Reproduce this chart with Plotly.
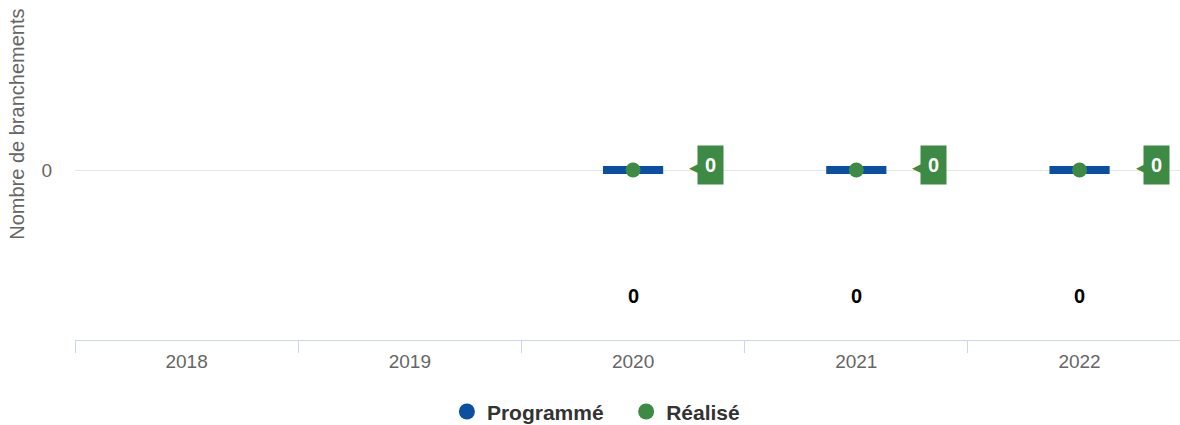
import plotly.graph_objects as go

annees = ["2018", "2019", "2020", "2021", "2022"]
programme = [None, None, 0, 0, 0]
realise = [None, None, 0, 0, 0]

BLEU = "#0b50a0"
VERT = "#3d8a44"
FONT = "Liberation Sans, Arial, sans-serif"

fig = go.Figure()

# barre "programmé" (valeur 0 -> trait horizontal)
fig.add_trace(go.Scatter(
    x=annees, y=programme, mode="markers", showlegend=False,
    marker=dict(symbol="line-ew", size=43, line=dict(width=8, color=BLEU)),
    hoverinfo="skip",
))
# point "réalisé"
fig.add_trace(go.Scatter(
    x=annees, y=realise, mode="markers", showlegend=False,
    marker=dict(symbol="circle", size=15, color=VERT),
    hoverinfo="skip",
))
# entrées de légende
fig.add_trace(go.Scatter(x=[None], y=[None], mode="markers",
                         name="<b>Programmé</b>\u00a0\u00a0\u00a0",
                         marker=dict(symbol="circle", size=16, color=BLEU)))
fig.add_trace(go.Scatter(x=[None], y=[None], mode="markers", name="<b>Réalisé</b>",
                         marker=dict(symbol="circle", size=16, color=VERT)))

for i, (p, r) in enumerate(zip(programme, realise)):
    if p is not None:
        fig.add_annotation(x=i, y=p, xref="x", yref="y", text="<b>%d</b>" % p,
                           showarrow=False, yshift=-126,
                           font=dict(family=FONT, size=20, color="#000"))
    if r is not None:
        fig.add_annotation(x=i, y=r, xref="x", yref="y", text="<b>%d</b>" % r,
                           showarrow=False, xshift=77, yshift=5, width=25, height=38,
                           bgcolor=VERT, borderpad=0,
                           font=dict(family=FONT, size=20, color="white"))
        fig.add_annotation(x=i, y=r, xref="x", yref="y", text="◀", showarrow=False,
                           xshift=61, yshift=3,
                           font=dict(family="DejaVu Sans", size=13, color=VERT))

fig.add_annotation(xref="paper", yref="paper", x=-0.0528, xanchor="center",
                   y=0.635, text="Nombre de branchements", textangle=-90,
                   showarrow=False, font=dict(family=FONT, size=20, color="#666"))

fig.update_layout(
    width=1180, height=425,
    margin=dict(l=75, r=0, t=0, b=85),
    plot_bgcolor="white", paper_bgcolor="white",
    font=dict(family=FONT),
    legend=dict(orientation="h", xref="container", x=0.505, xanchor="center",
                yref="container", y=0.031, yanchor="middle",
                font=dict(family=FONT, size=21, color="#333"),
                itemwidth=30, tracegroupgap=0),
    showlegend=True,
)
fig.update_xaxes(type="category", range=[-0.5, 4.45], tickson="boundaries",
                 ticks="outside", ticklen=12, tickcolor="#ccd6eb",
                 showline=True, linecolor="#ccd6eb", linewidth=1,
                 ticklabelstandoff=4,
                 showgrid=False, tickfont=dict(family=FONT, size=19, color="#666"))
fig.update_yaxes(range=[-1, 1], tickvals=[0], showgrid=True, gridcolor="#e6e6e6",
                 zeroline=False, ticks="", ticklen=0, ticklabelstandoff=22,
                 tickfont=dict(family=FONT, size=19, color="#666"))

fig.write_html("out.html", config={"displayModeBar": False},
               post_script="document.body.style.margin='0';document.body.style.overflow='hidden';")
